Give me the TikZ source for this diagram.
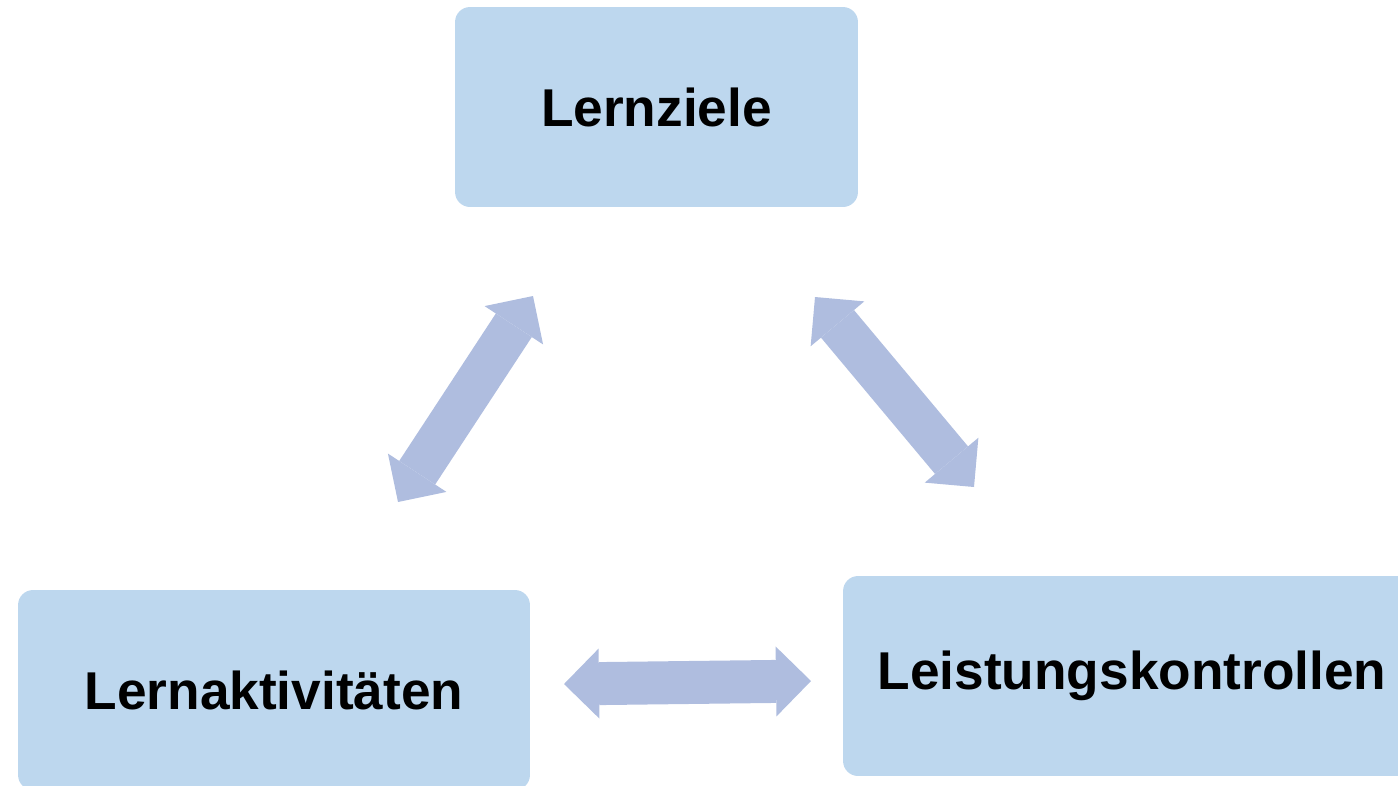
\documentclass[tikz,border=0pt]{standalone}
\usepackage{fontspec}
\setmainfont{Liberation Sans}
\usetikzlibrary{arrows.meta,positioning,calc}
\definecolor{boxblue}{RGB}{189,215,238}
\definecolor{arrblue}{RGB}{175,189,223}
\tikzset{
  box/.style={fill=boxblue,rounded corners=0.3cm,inner sep=0pt,align=center,
    minimum height=4cm,font=\fontsize{30.3}{36}\selectfont\bfseries},
  dbl/.style={arrblue,line width=0.86cm,
    {Triangle[length=0.7cm,width=1.4cm,line width=0pt]}-{Triangle[length=0.7cm,width=1.4cm,line width=0pt]}},
}
\begin{document}
\begin{tikzpicture}[x=0.02cm,y=-0.02cm]
\useasboundingbox (0,0) rectangle (1398,785);
\clip (0,0) rectangle (1398,785);
% the three boxes
\node[box,minimum width=8.06cm] (ziele) at (656.5,107) {Lernziele};
\node[box,minimum width=10.24cm] (akt) at (274,690) {Lernaktivitäten};
\node[box,minimum width=11.56cm] (kontr) at (1132,676) {Leistungskontrollen};
% free ends of the block arrows
\coordinate (a1) at (398,502);
\coordinate (a2) at (533,296);
\coordinate (b1) at (815,297);
\coordinate (b2) at (974,487);
\coordinate (c1) at (564,684);
\coordinate (c2) at (811,681);
\draw[dbl] (a1) -- (a2);
\draw[dbl] (b1) -- (b2);
\draw[dbl] (c1) -- (c2);
\end{tikzpicture}
\end{document}
